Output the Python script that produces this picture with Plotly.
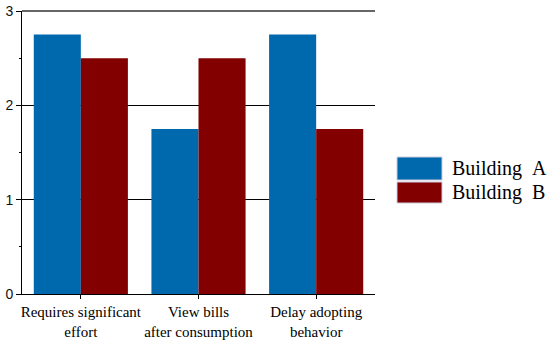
import plotly.graph_objects as go

categories = ["Requires significant<br>effort", "View bills<br>after consumption", "Delay adopting<br>behavior"]
building_a = [2.75, 1.75, 2.75]
building_b = [2.5, 2.5, 1.75]
series_names = ["Building\u00a0\u00a0A", "Building\u00a0\u00a0B"]
colors = ["#0068ac", "#820000"]
y_ticks = [0, 1, 2, 3]

fig = go.Figure()
for name, vals, c in zip(series_names, [building_a, building_b], colors):
    fig.add_trace(go.Bar(x=categories, y=vals, name=name, marker_color=c,
                         marker_line_width=0, showlegend=False))

fig.update_layout(
    width=550, height=342,
    margin=dict(l=22, r=175, t=11, b=48),
    paper_bgcolor="white", plot_bgcolor="white",
    barmode="group", bargap=0.2, bargroupgap=0,
    xaxis=dict(showline=True, linecolor="black", linewidth=1, automargin=False,
               ticks="outside", ticklen=4, tickcolor="black",
               tickfont=dict(family="Liberation Serif", size=15, color="black"),
               showgrid=False),
    yaxis=dict(range=[0, 3], tickvals=y_ticks, showline=True, linecolor="black",
               linewidth=1, ticks="outside", ticklen=5, tickcolor="black", automargin=False,
               tickfont=dict(family="Liberation Sans", size=14, color="#111"),
               showgrid=True, gridcolor="black", gridwidth=1, zeroline=False,
               minor=dict(dtick=0.5, ticks="outside", ticklen=2, tickcolor="black", showgrid=False)),
)

fig.add_shape(type="line", xref="paper", yref="paper", x0=0, x1=1, y0=1, y1=1,
              line=dict(color="#666", width=2))

# Legend (manual, large swatches)
sw_x0, sw_x1 = (397 - 22) / 353, (442 - 22) / 353
rows = [(157, 180), (182, 203)]
ph = 342 - 11 - 48
for (top, bot), c, name in zip(rows, colors, series_names):
    y0 = 1 - (bot - 11) / ph
    y1 = 1 - (top - 11) / ph
    fig.add_shape(type="rect", xref="paper", yref="paper", x0=sw_x0, x1=sw_x1, y0=y0, y1=y1,
                  fillcolor=c, line=dict(color="#ccd", width=1))
    fig.add_annotation(xref="paper", yref="paper", x=(450 - 22) / 353, y=(y0 + y1) / 2,
                       text=name, showarrow=False, xanchor="left", yanchor="middle",
                       font=dict(family="Liberation Serif", size=20, color="black"))

fig.write_html("out.html", config={"displayModeBar": False},
               post_script="document.body.style.margin='0px';document.body.style.overflow='hidden';")
